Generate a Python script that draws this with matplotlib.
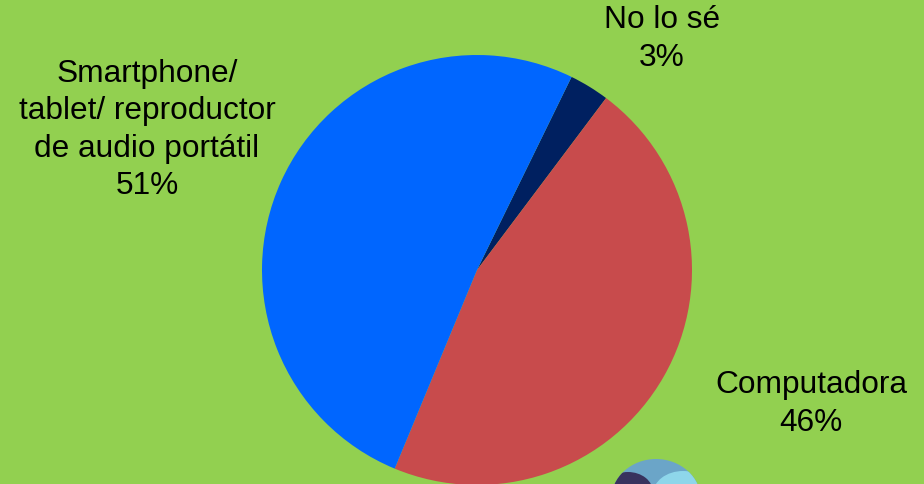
import matplotlib.pyplot as plt
from matplotlib.patches import Ellipse

plt.rcParams['font.family'] = ['Liberation Sans', 'DejaVu Sans']

# Slices (clockwise from the "No lo sé" wedge)
labels = ["No lo sé", "Computadora", "Smartphone/\ntablet/ reproductor\nde audio portátil"]
shares = [3, 46, 51]
colors = ["#002060", "#C84B4C", "#0066FF"]

fig = plt.figure(figsize=(9.24, 4.84), dpi=100, facecolor="#92D050")
ax = fig.add_axes([0, 0, 1, 1])
ax.set_facecolor("#92D050")

ax.pie(shares, colors=colors, center=(477, 214), radius=215,
       startangle=63.9, counterclock=False, frame=True,
       wedgeprops=dict(linewidth=0))
ax.set_xlim(0, 924)
ax.set_ylim(0, 484)
ax.set_aspect("equal")
ax.axis("off")

# labels
txt = dict(ha="center", va="center", fontsize=22.8, linespacing=1.33)
ax.text(662, 445, labels[0] + "\n3%", **txt)
ax.text(147, 354, labels[2] + "\n51%", **txt)
ax.text(811, 80, labels[1] + "\n46%", **txt)

# partial logo at the bottom edge
outer = Ellipse((656, -16), 90, 82, color="#6BA5C8", lw=0)
ax.add_patch(outer)
dark = Ellipse((628, -8), 50, 40, color="#38325E", lw=0)
dark.set_clip_path(outer)
ax.add_patch(dark)
cyan = Ellipse((683, -10), 60, 46, color="#8ED6EA", lw=0)
cyan.set_clip_path(outer)
ax.add_patch(cyan)
ax.add_patch(Ellipse((655, -8), 18, 12, color="#92D050", lw=0))

fig.savefig("out.png", dpi=100, facecolor=fig.get_facecolor())
